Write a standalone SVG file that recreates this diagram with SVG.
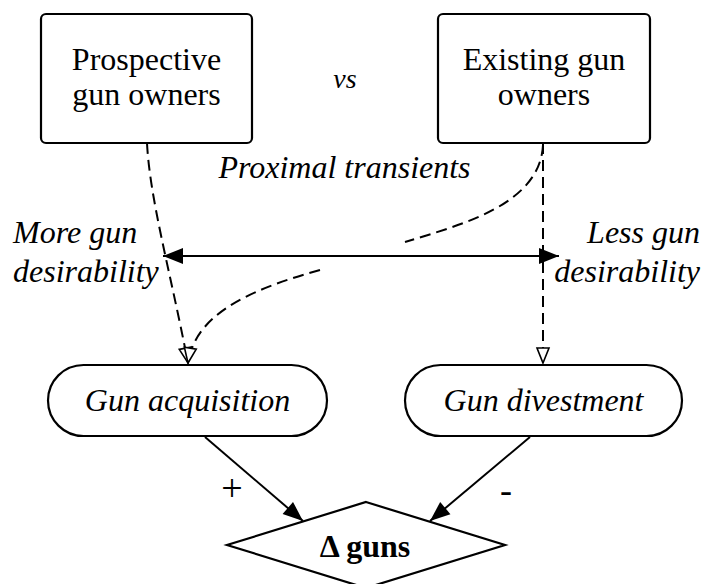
<svg xmlns="http://www.w3.org/2000/svg" width="704" height="584" viewBox="0 0 704 584">
<style>
.box{fill:#fff;stroke:#000;stroke-width:2.2}
.t{font-family:"Liberation Serif","Times New Roman",serif;font-size:32px;fill:#000}
.s28{font-size:28px}
.s38{font-size:38px}
.s36{font-size:36px}
.i{font-style:italic}
.b{font-weight:bold}
.dash{fill:none;stroke:#000;stroke-width:2;stroke-dasharray:11,6}
.solid{fill:none;stroke:#000;stroke-width:2}
</style>
<defs>
<marker id="hollow" markerUnits="userSpaceOnUse" markerWidth="20" markerHeight="16" viewBox="-17 -8 20 16" refX="0" refY="0" orient="auto">
<path d="M0,0 L-15,-6 L-15,6 Z" fill="#fff" stroke="#000" stroke-width="1.6" stroke-dasharray="none"/>
</marker>
<marker id="filled" markerUnits="userSpaceOnUse" markerWidth="24" markerHeight="20" viewBox="-22 -10 24 20" refX="0" refY="0" orient="auto">
<path d="M0,0 L-20,-8 L-20,8 Z" fill="#000"/>
</marker>
<marker id="filledStart" markerUnits="userSpaceOnUse" markerWidth="24" markerHeight="20" viewBox="-2 -10 24 20" refX="0" refY="0" orient="auto">
<path d="M0,0 L20,-8 L20,8 Z" fill="#000"/>
</marker>
</defs>
<rect width="704" height="584" fill="#fff"/>

<g id="connectors">
<path class="dash" d="M147,143 C150,200 170,270 188,363" marker-end="url(#hollow)"/>
<path class="dash" d="M543,145 C540,205 460,225 405,242"/>
<path class="dash" d="M320,270 C240,292 195,318 188,363" marker-end="url(#hollow)"/>
<path class="dash" d="M543,143 L543,363" marker-end="url(#hollow)"/>
<path class="solid" d="M163,256 L559,256" marker-start="url(#filledStart)" marker-end="url(#filled)"/>
<path class="solid" d="M205,437 L303,521" marker-end="url(#filled)"/>
<path class="solid" d="M530,437 L430,521" marker-end="url(#filled)"/>
<text class="t s38" x="232" y="501" text-anchor="middle">+</text>
<text class="t s36" x="506" y="502" text-anchor="middle">-</text>
</g>

<g id="prospective">
<rect class="box" x="41" y="14" width="211" height="129" rx="5"/>
<text class="t" x="146.5" y="70" text-anchor="middle">Prospective</text>
<text class="t" x="146.5" y="105" text-anchor="middle">gun owners</text>
</g>

<g id="existing">
<rect class="box" x="438" y="14" width="212" height="129" rx="5"/>
<text class="t" x="544" y="70" text-anchor="middle">Existing gun</text>
<text class="t" x="544" y="105" text-anchor="middle">owners</text>
</g>

<g id="vs">
<text class="t i s28" x="345" y="88" text-anchor="middle">vs</text>
</g>

<g id="proximal">
<text class="t i" x="344.5" y="178" text-anchor="middle">Proximal transients</text>
</g>

<g id="more">
<text class="t i" x="13" y="243">More gun</text>
<text class="t i" x="13" y="282">desirability</text>
</g>

<g id="less">
<text class="t i" x="700" y="243" text-anchor="end">Less gun</text>
<text class="t i" x="700" y="282" text-anchor="end">desirability</text>
</g>

<g id="acquisition">
<rect class="box" x="48" y="365" width="279" height="71" rx="35.5"/>
<text class="t i" x="187.5" y="411" text-anchor="middle">Gun acquisition</text>
</g>

<g id="divestment">
<rect class="box" x="405" y="365" width="277" height="71" rx="35.5"/>
<text class="t i" x="543.5" y="411" text-anchor="middle">Gun divestment</text>
</g>

<g id="delta">
<path class="box" d="M366,502 L505,545 L366,588 L227,545 Z"/>
<text class="t b" x="365" y="557" text-anchor="middle">Δ guns</text>
</g>
</svg>
